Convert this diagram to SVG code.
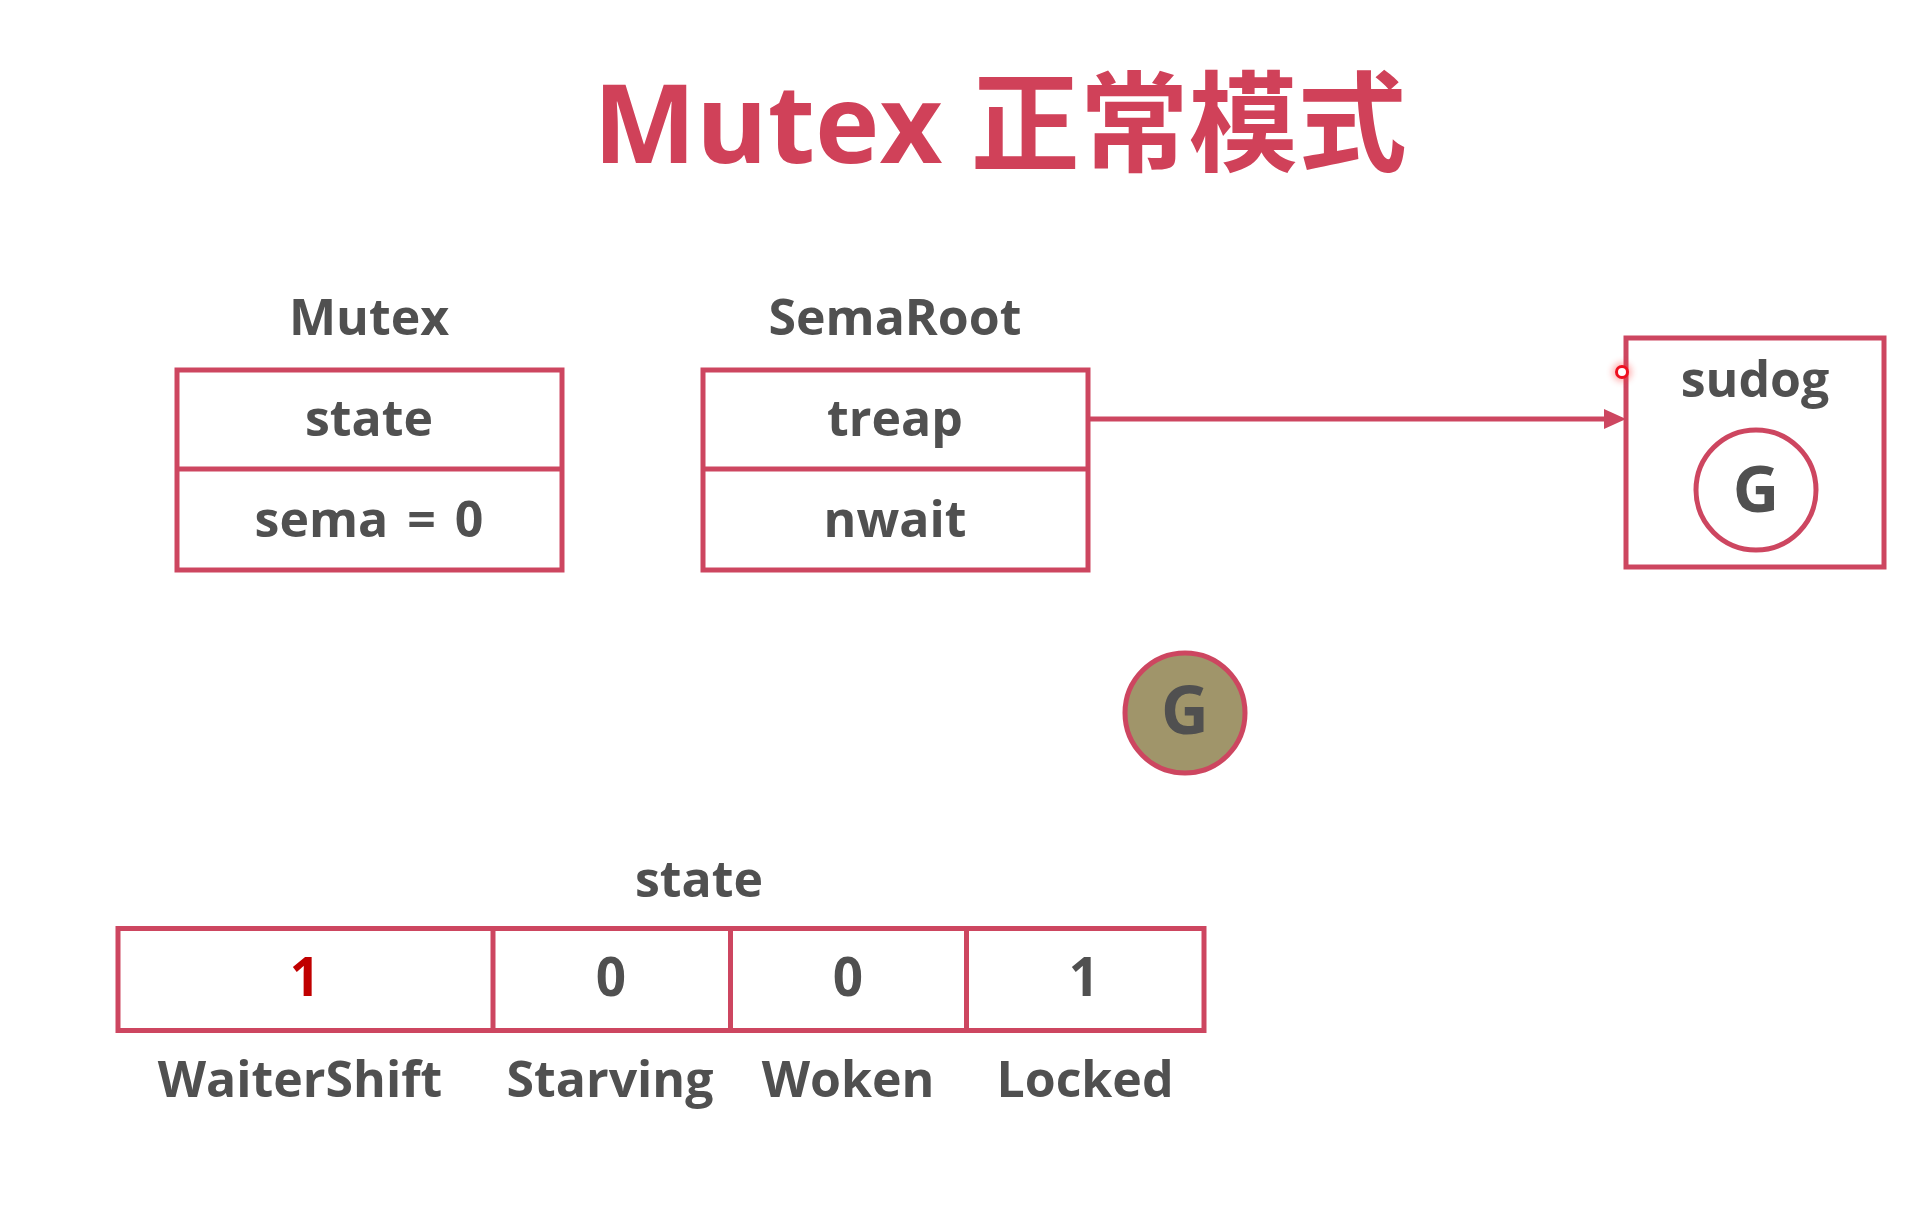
<svg xmlns="http://www.w3.org/2000/svg" width="1926" height="1208" viewBox="0 0 1926 1208">
<style>
.t{font-family:"Open Sans","Noto Sans CJK SC",sans-serif;font-weight:bold;fill:#505050;text-anchor:middle}
.f{font-size:50px}
.box{fill:#fff;stroke:#CD4660;stroke-width:5}
.ln{stroke:#CD4660;stroke-width:5;fill:none}
</style>
<defs>
<filter id="glow" x="-1" y="-1" width="3" height="3"><feGaussianBlur stdDeviation="3"/></filter>
</defs>
<rect width="1926" height="1208" fill="#fff"/>
<g id="title">
<text class="t" x="1000" y="163" style="font-size:109px;fill:#D04159">Mutex 正常模式</text>
</g>
<g id="mutex">
<text class="t f" x="369" y="335">Mutex</text>
<rect class="box" x="177" y="370" width="385" height="200"/>
<line class="ln" x1="177" y1="469" x2="562" y2="469"/>
<text class="t f" x="369" y="436">state</text>
<text class="t f" x="369" y="537" style="word-spacing:6px">sema = 0</text>
</g>
<g id="semaroot">
<text class="t f" x="895" y="335">SemaRoot</text>
<rect class="box" x="703" y="370" width="385" height="200"/>
<line class="ln" x1="703" y1="469" x2="1088" y2="469"/>
<text class="t f" x="895" y="436">treap</text>
<text class="t f" x="895" y="537">nwait</text>
</g>
<g id="sudog">
<rect class="box" x="1626" y="338" width="258" height="229"/>
<text class="t f" x="1755" y="397">sudog</text>
<circle cx="1756" cy="490" r="60" fill="#fff" stroke="#CD4660" stroke-width="5"/>
<text class="t" x="1756" y="512" style="font-size:64px">G</text>
</g>
<g id="goroutine">
<circle cx="1185" cy="713" r="60" fill="#A0956A" stroke="#CD4660" stroke-width="5"/>
<text class="t" x="1185" y="734" style="font-size:66px">G</text>
</g>
<g id="connectors">
<line class="ln" x1="1088" y1="419" x2="1606" y2="419"/>
<polygon points="1604,409 1626,419 1604,429" fill="#CD4660"/>
</g>
<g id="state-bits">
<text class="t f" x="699" y="897">state</text>
<rect class="box" x="118" y="928.5" width="1086" height="102"/>
<line class="ln" x1="493" y1="928.5" x2="493" y2="1030.5"/>
<line class="ln" x1="730.5" y1="928.5" x2="730.5" y2="1030.5"/>
<line class="ln" x1="966.5" y1="928.5" x2="966.5" y2="1030.5"/>
<text class="t" x="305" y="996" style="font-size:53px;fill:#C00000">1</text>
<text class="t" x="611" y="996" style="font-size:53px">0</text>
<text class="t" x="848" y="996" style="font-size:53px">0</text>
<text class="t" x="1084" y="996" style="font-size:53px">1</text>
<text class="t f" x="300" y="1097">WaiterShift</text>
<text class="t f" x="610" y="1097">Starving</text>
<text class="t f" x="848" y="1097">Woken</text>
<text class="t f" x="1085" y="1097">Locked</text>
</g>
<g id="pointer">
<circle cx="1622" cy="372" r="10" fill="#FF3030" opacity="0.35" filter="url(#glow)"/>
<circle cx="1622" cy="372" r="5.5" fill="#fff" stroke="#EE1020" stroke-width="3"/>
</g>
</svg>
